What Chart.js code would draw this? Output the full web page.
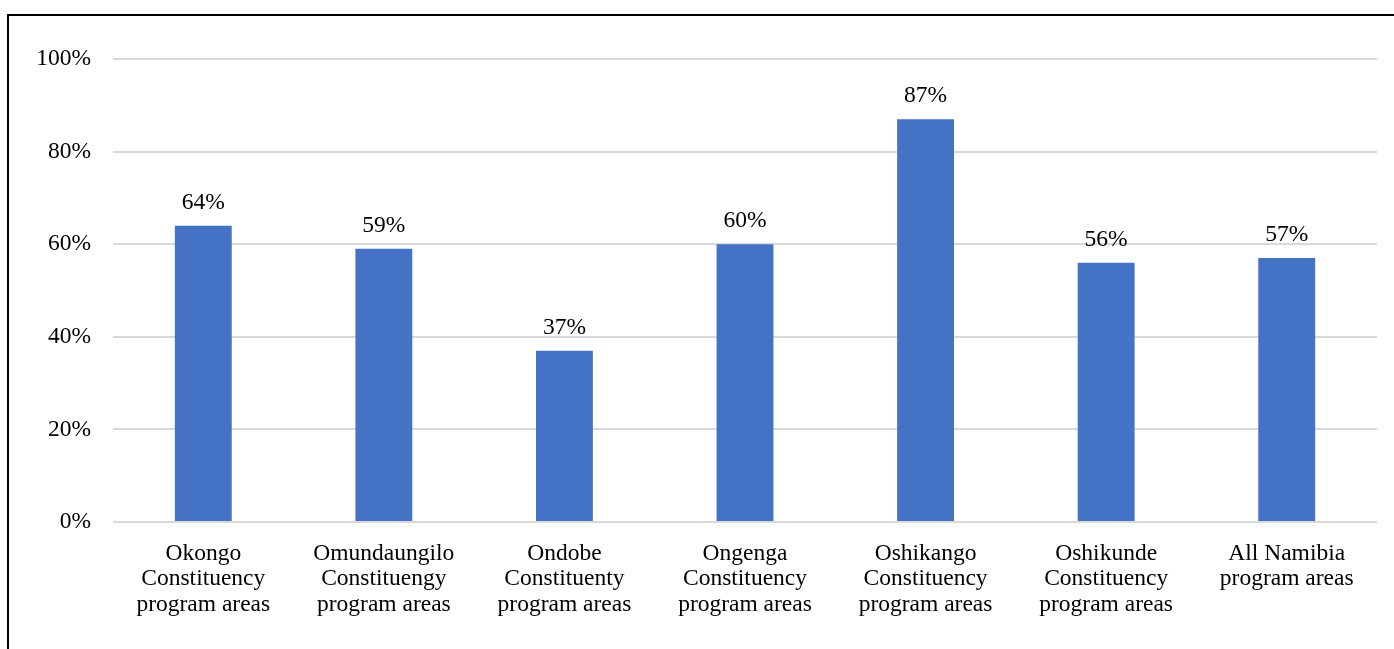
<!DOCTYPE html>
<html>
<head>
<meta charset="utf-8">
<script src="https://cdn.jsdelivr.net/npm/chart.js@4.4.1/dist/chart.umd.min.js"></script>
<style>
    body { margin: 0; background: #fff; }
    #wrap { position: relative; width: 1394px; height: 649px; }
    #frame { position: absolute; left: 7px; top: 14px; right: 0; bottom: 0; border-left: 2px solid #000; border-top: 2px solid #000; }
    canvas { position: absolute; left: 0; top: 0; }
</style>
</head>
<body>
<div id="wrap">
    <div id="frame"></div>
    <canvas id="chart" width="1394" height="649"></canvas>
</div>
<script>
const areas = [
    ['Okongo', 'Constituency', 'program areas'],
    ['Omundaungilo', 'Constituengy', 'program areas'],
    ['Ondobe', 'Constituenty', 'program areas'],
    ['Ongenga', 'Constituency', 'program areas'],
    ['Oshikango', 'Constituency', 'program areas'],
    ['Oshikunde', 'Constituency', 'program areas'],
    ['All Namibia', 'program areas']
];
const shares = [64, 59, 37, 60, 87, 56, 57];
const yTicks = [0, 20, 40, 60, 80, 100];

const FONT = 'Liberation Serif, Times New Roman, serif';
const SIZE = 23.5;

// percentage labels above each bar
const barLabels = {
    id: 'barLabels',
    afterDatasetsDraw(chart) {
        const ctx = chart.ctx;
        const meta = chart.getDatasetMeta(0);
        ctx.save();
        ctx.font = SIZE + 'px ' + FONT;
        ctx.fillStyle = '#000';
        ctx.textAlign = 'center';
        ctx.textBaseline = 'alphabetic';
        meta.data.forEach((bar, i) => {
            ctx.fillText(shares[i] + '%', bar.x, bar.y - 17);
        });
        ctx.restore();
    }
};

new Chart(document.getElementById('chart'), {
    type: 'bar',
    data: {
        labels: areas,
        datasets: [{
            data: shares,
            backgroundColor: '#4472C4',
            barPercentage: 0.315,
            categoryPercentage: 1
        }]
    },
    options: {
        responsive: false,
        animation: false,
        layout: { padding: { top: 59, right: 17, left: 0, bottom: 0 } },
        plugins: { legend: { display: false }, tooltip: { enabled: false } },
        scales: {
            x: {
                grid: { display: false },
                border: { display: false },
                ticks: {
                    color: '#000',
                    padding: 11,
                    maxRotation: 0,
                    autoSkip: false,
                    font: { family: FONT, size: SIZE, lineHeight: 1.085 }
                },
                afterFit(scale) { scale.height = 127; }
            },
            y: {
                min: 0,
                max: 100,
                afterBuildTicks(scale) { scale.ticks = yTicks.map(v => ({ value: v })); },
                grid: { color: '#d9d9d9', lineWidth: 2, drawTicks: false },
                border: { display: false },
                ticks: {
                    color: '#000',
                    padding: 22,
                    font: { family: FONT, size: SIZE },
                    callback: v => v + '%'
                },
                afterFit(scale) { scale.width = 113; }
            }
        }
    },
    plugins: [barLabels]
});
</script>
</body>
</html>
